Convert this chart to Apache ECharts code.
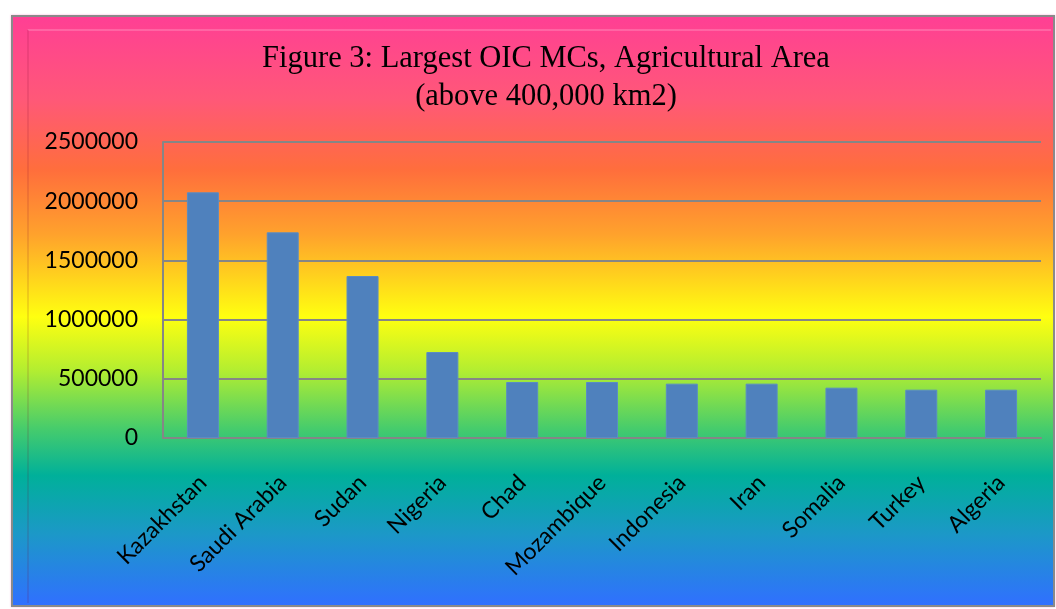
<!DOCTYPE html>
<html>
<head>
<meta charset="utf-8">
<script src="https://cdn.jsdelivr.net/npm/echarts@6/dist/echarts.min.js"></script>
<style>
  html, body { margin: 0; padding: 0; background: #fff; }
  #wrap { position: relative; width: 1056px; height: 609px; }
  /* 渐变背景框 */
  #frame {
    position: absolute; left: 11px; top: 15px; width: 1040px; height: 588px;
    border: 2px solid #8a8a8a;
    background: linear-gradient(to bottom,
      #ff3f94 0%, #ff5878 14%, #ff6e3c 26%, #ffa22c 37%, #ffff10 51%,
      #b4ee30 60%, #46cc6c 70%, #00b09a 78%, #1c98c8 88%, #3070ff 100%);
    box-shadow: 0 0 2px #ffb0d8;
  }
  #inner {
    position: absolute; left: 14px; top: 12px; right: 2px; bottom: 2px;
    border-left: 2px solid rgba(120,0,40,0.12);
    border-top: 2px solid rgba(255,255,255,0.18);
  }
  #chart { position: absolute; left: 0; top: 0; width: 1056px; height: 609px; }
</style>
</head>
<body>
<div id="wrap">
  <div id="frame"><div id="inner"></div></div>
  <div id="chart"></div>
</div>
<script>
  const countries = ['Kazakhstan', 'Saudi Arabia', 'Sudan', 'Nigeria', 'Chad', 'Mozambique',
    'Indonesia', 'Iran', 'Somalia', 'Turkey', 'Algeria']
  const agriArea = [2075000, 1737000, 1368000, 726000, 473000, 473000,
    459000, 459000, 425000, 408000, 408000]
  const yTicks = [0, 500000, 1000000, 1500000, 2000000, 2500000]

  const labelFont = 'Lato, "Liberation Sans", sans-serif'
  const mychart = echarts.init(document.getElementById('chart'))
  const option = {
    animation: false,
    title: {
      text: 'Figure 3: Largest OIC MCs, Agricultural Area\n(above 400,000 km2)',
      left: 541,
      top: 35,
      textAlign: 'center',
      textStyle: {
        fontFamily: '"Liberation Serif", serif',
        fontWeight: 'normal',
        fontSize: 30.5,
        lineHeight: 38,
        color: '#000'
      }
    },
    grid: { left: 163, top: 142, right: 15, bottom: 171 },
    xAxis: {
      type: 'category',
      data: countries,
      axisLine: { show: true, lineStyle: { color: '#868686', width: 2 } },
      axisTick: { show: false },
      axisLabel: {
        rotate: 45,
        margin: 41,
        interval: 0,
        fontFamily: labelFont,
        fontSize: 23,
        color: '#000'
      }
    },
    yAxis: {
      type: 'value',
      min: yTicks[0],
      max: yTicks[yTicks.length - 1],
      interval: yTicks[1] - yTicks[0],
      axisLine: { show: true, lineStyle: { color: '#868686', width: 2 } },
      axisTick: { show: false },
      splitLine: { show: true, lineStyle: { color: '#868686', width: 2 } },
      axisLabel: {
        margin: 25,
        fontFamily: labelFont,
        fontSize: 23,
        color: '#000',
        formatter: (val)=> String(val)
      }
    },
    series: [
      {
        type: 'bar',
        data: agriArea,
        barWidth: 32,
        itemStyle: {
          color: '#4f81bd',
          borderColor: '#5a8cc4',
          borderWidth: 1
        }
      }
    ]
  }
  mychart.setOption(option)
</script>
</body>
</html>
